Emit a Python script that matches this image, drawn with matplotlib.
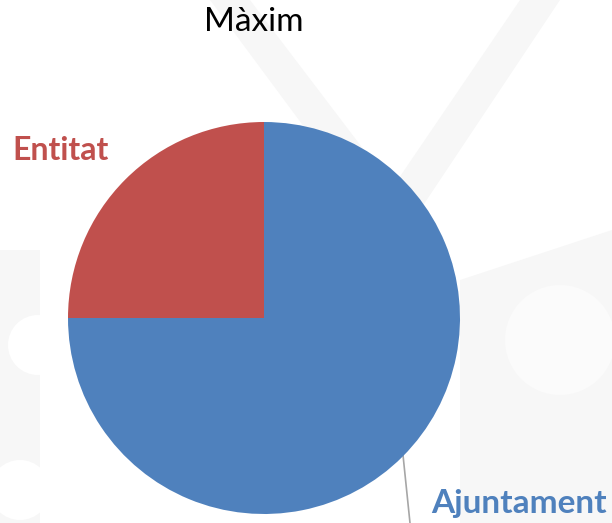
import matplotlib
matplotlib.use("Agg")
import matplotlib.pyplot as plt
from matplotlib.patches import Polygon, Circle

labels = ["Ajuntament", "Entitat"]
values = [75, 25]
colors = ["#4F81BD", "#C0504D"]
title = "Màxim"

W, H = 612, 523
fig = plt.figure(figsize=(W / 100, H / 100), dpi=100)
fig.patch.set_facecolor("white")

# faint background watermark
bg = fig.add_axes([0, 0, 1, 1])
bg.set_xlim(0, W)
bg.set_ylim(H, 0)
bg.axis("off")
shapes = [
    [(210, 0), (250, 0), (440, 250), (410, 270)],
    [(520, 0), (560, 0), (380, 270), (350, 250)],
    [(0, 250), (40, 250), (40, 523), (0, 523)],
    [(460, 280), (612, 230), (612, 523), (460, 523)],
]
for s in shapes:
    bg.add_patch(Polygon(s, closed=True, facecolor="#f7f7f7", edgecolor="none"))
bg.add_patch(Circle((38, 345), 30, facecolor="white", edgecolor="none"))
bg.add_patch(Circle((20, 490), 30, facecolor="white", edgecolor="none"))
bg.add_patch(Circle((560, 340), 55, facecolor="#fbfbfb", edgecolor="none"))

# pie
cx, cy, r = 264, 318, 196
ax = fig.add_axes([(cx - r) / W, (H - cy - r) / H, 2 * r / W, 2 * r / H])
ax.pie(values, colors=colors, startangle=90, counterclock=False, radius=1,
       wedgeprops=dict(linewidth=0))
ax.set_xlim(-1, 1)
ax.set_ylim(-1, 1)
ax.set_aspect("equal")
ax.axis("off")

font = "Lato"
fig.text(254 / W, 1 - 22 / H, title, ha="center", va="center",
         fontsize=24, family=font, color="black")
fig.text(12 / W, 1 - 150 / H, labels[1], ha="left", va="center",
         fontsize=23, fontweight="bold", family=font, color=colors[1])
fig.text(607 / W, 1 - 503 / H, labels[0], ha="right", va="center",
         fontsize=24, fontweight="bold", family=font, color=colors[0])

# leader line
bg.plot([403, 410], [455, 523], color="#a6a6a6", linewidth=1.2)

fig.savefig("out.png", dpi=100)
